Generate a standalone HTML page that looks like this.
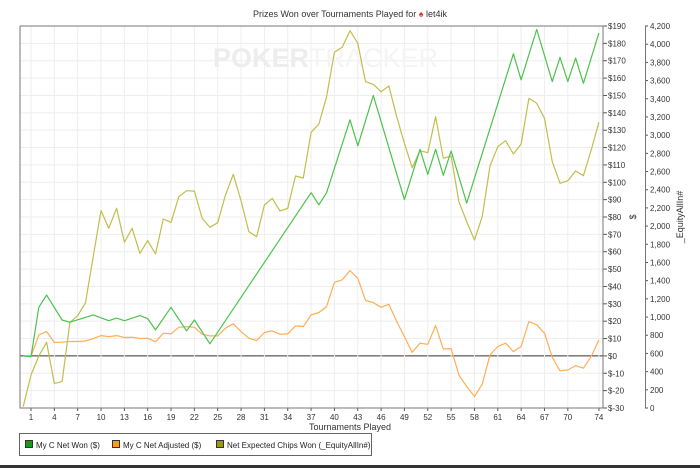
<!DOCTYPE html>
<html><head><meta charset="utf-8"><style>
body{margin:0;background:#fff;}
svg{display:block;font-family:"Liberation Sans",sans-serif;}
</style></head><body>
<svg id="chart" width="700" height="468" viewBox="0 0 700 468">
<rect x="0" y="0" width="700" height="468" fill="#fff"/>
<text x="350" y="17" text-anchor="middle" font-size="9" fill="#333">Prizes Won over Tournaments Played for <tspan fill="#e03030">♠</tspan> let4ik</text>
<g id="grid"></g>
<g>
<text x="213" y="67" font-size="27" font-weight="bold" fill="#ededed">POKER<tspan font-weight="normal" fill="#f4f4f4">TRACKER</tspan></text>
</g>
<g id="series"></g>
<g id="axes"></g>
<text x="350" y="430" text-anchor="middle" font-size="9" fill="#333">Tournaments Played</text>
<text transform="translate(636,217) rotate(-90)" text-anchor="middle" font-size="9" fill="#333">$</text>
<text transform="translate(683,217) rotate(-90)" text-anchor="middle" font-size="9" fill="#333">_EquityAllIn#</text>
<g>
<rect x="19.5" y="433.5" width="352" height="22" fill="#fff" stroke="#666"/>
<g><rect x="25.5" y="440.5" width="7" height="7" fill="#1a9a1a" stroke="#333"/><text x="36" y="448" font-size="8" fill="#222">My C Net Won ($)</text></g>
<g><rect x="112.5" y="440.5" width="7" height="7" fill="#ff9a1a" stroke="#333"/><text x="123" y="448" font-size="8" fill="#222">My C Net Adjusted ($)</text></g>
<g><rect x="216.5" y="440.5" width="7" height="7" fill="#9a9a10" stroke="#333"/><text x="227" y="448" font-size="8" fill="#222">Net Expected Chips Won (_EquityAllIn#)</text></g>
</g>
<rect x="0" y="465" width="700" height="3" fill="#333"/>
</svg>
<script>
const netWon=[0,-0.5,28,35,null,20.7,19.4,null,null,23.6,null,20.3,21.8,20.3,null,23.2,21.5,15,null,28,null,14.4,20.7,null,7,null,null,null,null,null,null,null,null,null,null,null,null,94,87,94,null,null,136,121,null,150,null,null,null,90,null,119,104.6,119,104,118,null,88,null,null,null,null,null,174,159,null,188,null,158,172,158,171.5,157,null,186];
const netAdjusted=[0,-0.3,12,14,7.7,7.9,8.3,8.3,8.6,9.9,11.7,11.1,11.7,10.6,10.8,10,10.2,8.1,13.1,12.7,16.5,16.9,16.5,12.5,11.5,11.5,16,18.5,14,10.2,8.8,13.5,14.4,12.5,12.7,17.3,16.9,23.6,25,28.4,42.4,43.8,49.2,44.7,31.9,30.7,28,29.8,19.8,11.1,2.1,7.3,6.7,17.5,4,4.2,-11,-17.6,-23.4,-16.3,0.6,5.4,7.3,2.5,5.4,19.8,17.9,13.1,-0.8,-8.6,-8.1,-5.6,-7.1,-0.4,9.2];
const expectedChips=[14,363,572,722,271,290,942,1015,1158,1664,2170,1976,2196,1822,1976,1701,1840,1693,2078,2041,2323,2389,2385,2085,1987,2037,2342,2569,2276,1939,1883,2232,2306,2166,2196,2551,2529,3031,3123,3423,3911,3966,4148,4010,3588,3559,3478,3540,3203,2910,2642,2829,2807,3203,2745,2771,2268,2049,1847,2103,2661,2873,2939,2793,2903,3405,3350,3185,2708,2471,2499,2606,2554,2837,3141];
const xTickLabels=[1,4,7,10,13,16,19,22,25,28,31,34,37,40,43,46,49,52,55,58,61,64,67,70,74];
const dollarTicks=[-30,-20,-10,0,10,20,30,40,50,60,70,80,90,100,110,120,130,140,150,160,170,180,190];
const equityTicks=[0,200,400,600,800,1000,1200,1400,1600,1800,2000,2200,2400,2600,2800,3000,3200,3400,3600,3800,4000,4200];
const L=20,R=603,T=26,B=408;
const xS=t=>23.22+7.78*t;
const yD=v=>B-(v+30)/220*(B-T);
const yE=v=>B-v/4200*(B-T);
const NS='http://www.w3.org/2000/svg';
function mk(tag,attrs,parent){const e=document.createElementNS(NS,tag);for(const k in attrs)e.setAttribute(k,attrs[k]);parent.appendChild(e);return e;}
const grid=document.getElementById('grid'),axes=document.getElementById('axes'),series=document.getElementById('series');
dollarTicks.forEach(v=>{const y=yD(v);
 const g=mk('line',{x1:L,x2:R,y1:y,y2:y,stroke:v===0?'#333':'#eeeeee','stroke-width':1},grid);
 
 
 const tk=mk('line',{x1:R,x2:R+4,y1:y,y2:y,stroke:'#555'},axes);
 
 
 const tx=mk('text',{x:R+5,y:y+3,'font-size':8,fill:'#333'},axes);tx.textContent=(v<0?'$-'+(-v):'$'+v);
 
 
});
equityTicks.forEach(v=>{const y=yE(v);
 const tk=mk('line',{x1:645,x2:648,y1:y,y2:y,stroke:'#555'},axes);
 
 
 const tx=mk('text',{x:650,y:y+3,'font-size':8,fill:'#333'},axes);tx.textContent=v.toLocaleString('en-US');
 
 
});
xTickLabels.forEach(t=>{const x=xS(t);
 const g=mk('line',{x1:x,x2:x,y1:T,y2:B,stroke:'#eeeeee'},grid);
 
 
 const tk=mk('line',{x1:x,x2:x,y1:B,y2:B+3,stroke:'#555'},axes);
 
 
 const tx=mk('text',{x:x,y:B+12,'font-size':8,fill:'#333','text-anchor':'middle'},axes);tx.textContent=t;
 
 
});
const ax1=mk('path',{d:`M${L},${T}V${B}H${R}V${T}H${L}`,fill:'none',stroke:'#777'},axes);


const ax2=mk('line',{x1:645.5,x2:645.5,y1:T,y2:B,stroke:'#777'},axes);


function line(data,yf,color,name){let d='';data.forEach((v,i)=>{if(v===null)return;d+=(d?'L':'M')+xS(i).toFixed(1)+','+yf(v).toFixed(1);});
 const p=mk('path',{d:d,fill:'none',stroke:color,'stroke-width':1.2,'stroke-linejoin':'round'},series);
 
 }
line(expectedChips,yE,'#c2bd4c','line-expected-chips');
line(netAdjusted,yD,'#ffae55','line-net-adjusted');
line(netWon,yD,'#4cc24c','line-net-won');
</script>
</body></html>
